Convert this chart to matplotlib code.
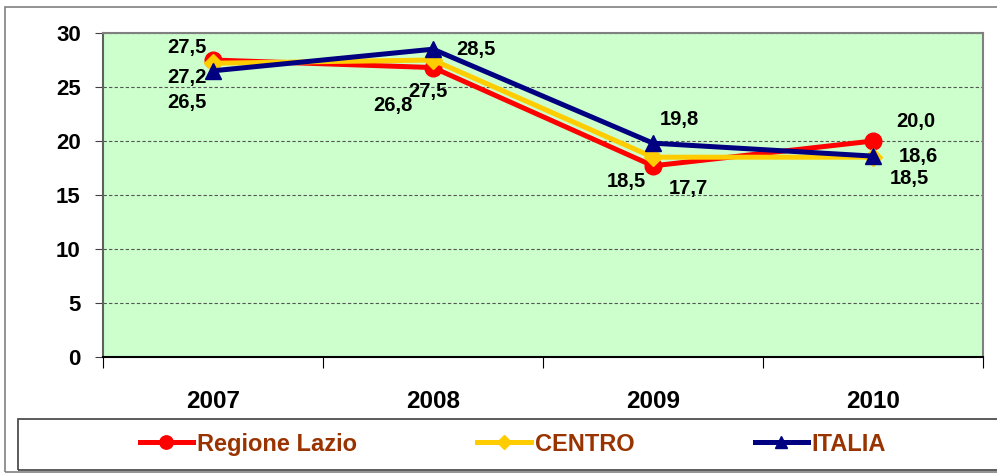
import matplotlib
matplotlib.use('Agg')
import matplotlib.pyplot as plt
from matplotlib.patches import Rectangle

plt.rcParams['font.family'] = ['Liberation Sans', 'DejaVu Sans']
plt.rcParams['font.weight'] = 'bold'

years = ['2007', '2008', '2009', '2010']
lazio = [27.5, 26.8, 17.7, 20.0]
centro = [27.2, 27.5, 18.5, 18.5]
italia = [26.5, 28.5, 19.8, 18.6]

# label offsets in pixels, per point
off_lazio = [(-26, 12), (-40, -38), (35, -23), (43, 19)]
off_centro = [(-26, -14), (-5, -31), (-27, -24), (36, -21)]
off_italia = [(-26, -32), (43, 0), (26, 24), (45, 0)]

W, H = 997, 473
fig = plt.figure(figsize=(W / 100, H / 100), dpi=100)

# outer frame of the chart object
fig.patches.append(Rectangle((5 / W, 1 - 472 / H), 1.1, (472 - 7) / H,
                             transform=fig.transFigure, fill=False,
                             edgecolor='#808080', lw=1.2))
# legend box
fig.patches.append(Rectangle((18 / W, 1 - 470 / H), 1.1, (470 - 419) / H,
                             transform=fig.transFigure, fill=False,
                             edgecolor='#404040', lw=1.2))

ax = fig.add_axes([103 / W, 1 - 357 / H, (983 - 103) / W, (357 - 33) / H])
ax.set_facecolor('#CCFFCC')

x = range(len(years))
series = [
    (lazio, 'Regione Lazio', '#FF0000', 'o', 12, off_lazio),
    (centro, 'CENTRO', '#FFCC00', 'D', 9, off_centro),
    (italia, 'ITALIA', '#000080', '^', 11, off_italia),
]
for vals, name, col, mk, ms, offs in series:
    ax.plot(x, vals, color=col, lw=3.6, marker=mk, markersize=ms,
            markeredgecolor=col, label=name)
    for xi, v, o in zip(x, vals, offs):
        ax.annotate(('%.1f' % v).replace('.', ','), (xi, v), xytext=o,
                    textcoords='offset pixels', ha='center', va='center',
                    fontsize=14.5, fontweight='bold', color='black')

ax.set_xlim(-0.5, 3.5)
ax.set_ylim(0, 30)
ax.set_yticks(range(0, 31, 5))
ax.set_xticks([i + 0.5 for i in range(-1, 4)], minor=False)
ax.set_xticklabels([])
ax.set_xticks(list(x), minor=True)
ax.set_xticklabels(years, minor=True)
ax.tick_params(axis='x', which='major', length=8, direction='out', color='black')
ax.tick_params(axis='x', which='minor', length=0, pad=24, labelsize=17.5)
ax.tick_params(axis='y', length=6, direction='out', pad=10, labelsize=16, color='#404040')
for lab in ax.get_xticklabels(minor=True) + ax.get_yticklabels():
    lab.set_fontweight('bold')

ax.yaxis.grid(True, linestyle=(0, (3, 2)), color='#555555', lw=0.8)
ax.set_axisbelow(True)
for s in ['top', 'right', 'left']:
    ax.spines[s].set_color('#808080')
    ax.spines[s].set_linewidth(1.5)
ax.spines['left'].set_color('#606060')
ax.spines['bottom'].set_color('black')
ax.spines['bottom'].set_linewidth(1.5)

leg = fig.legend(loc='center', bbox_to_anchor=(513 / W, 1 - 444 / H), ncol=3,
                 frameon=False, handlelength=2.25, handletextpad=0.17,
                 columnspacing=5.1, prop={'size': 17, 'weight': 'bold'},
                 markerscale=0.8)
for t in leg.get_texts():
    t.set_color('#993300')

fig.savefig('out.png', dpi=100)
